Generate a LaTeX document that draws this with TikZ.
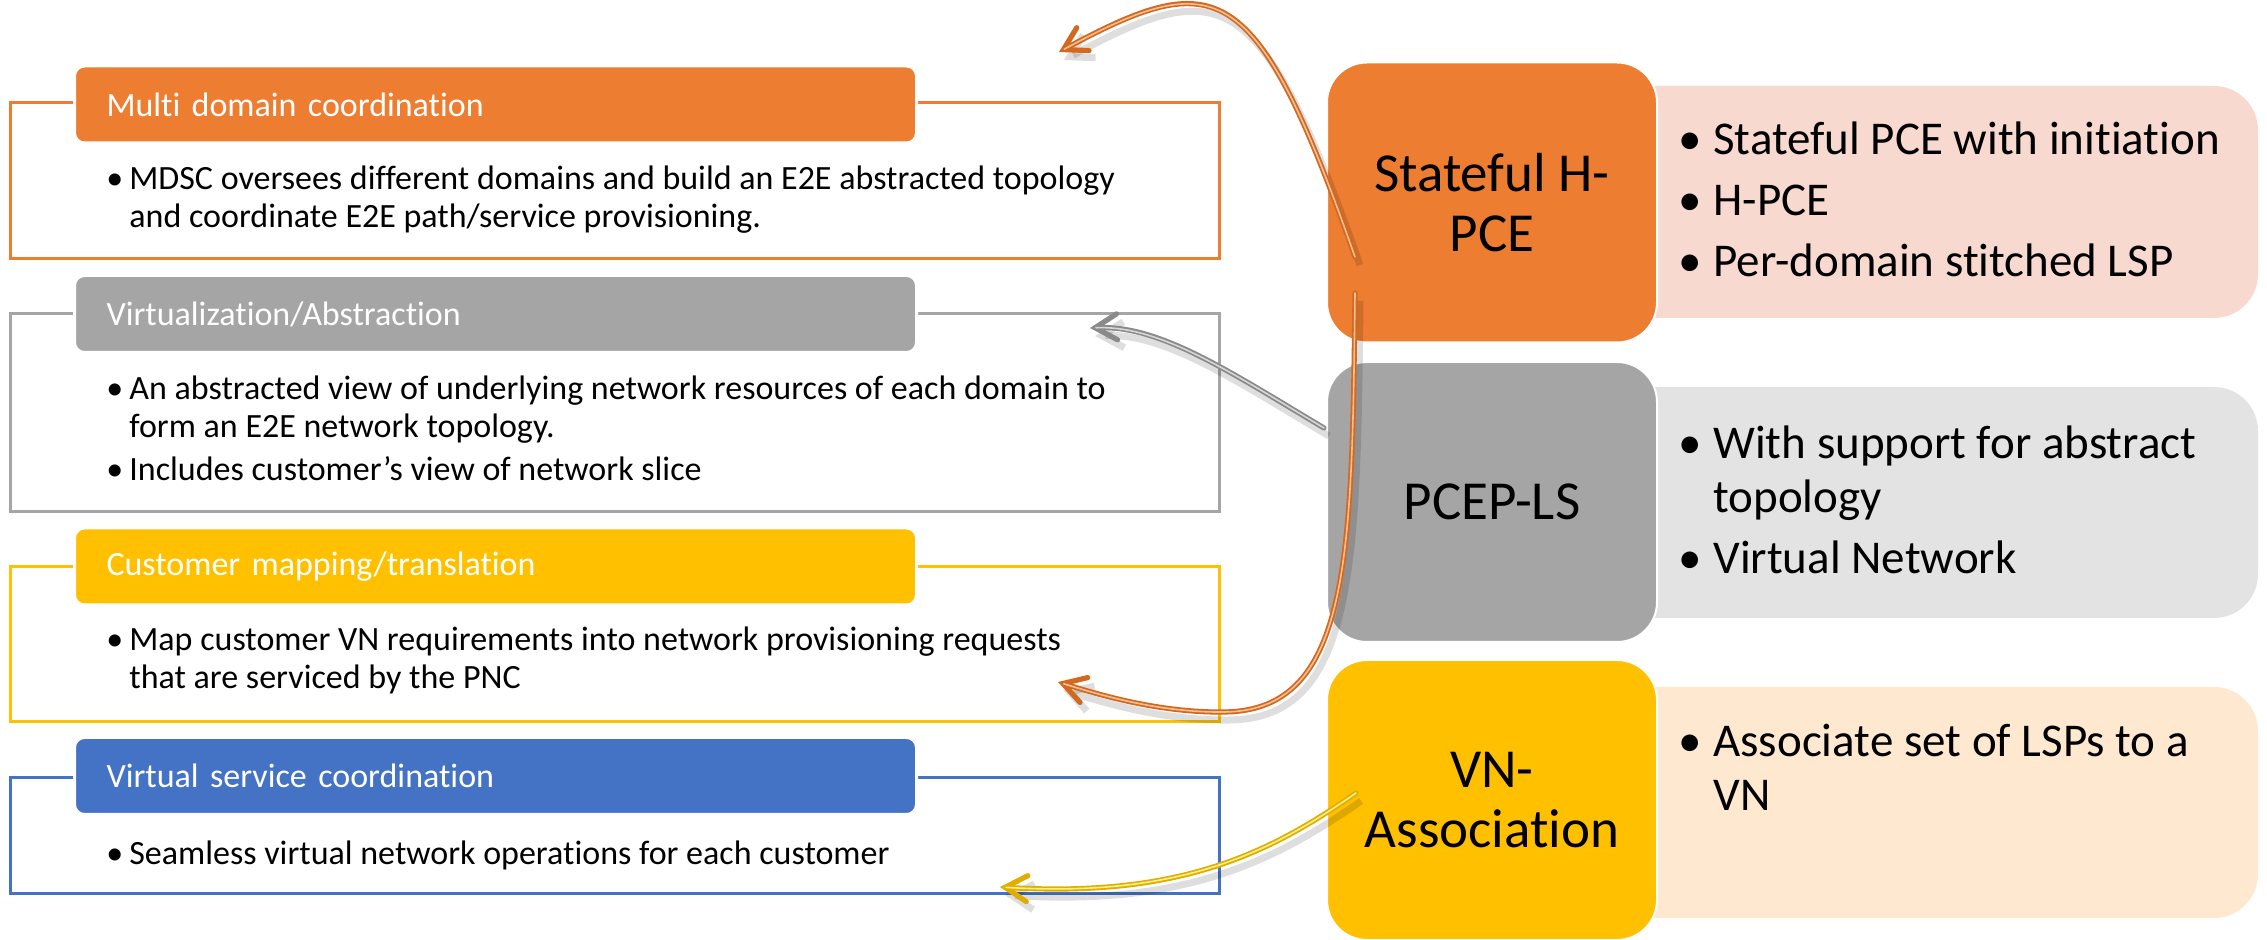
\documentclass[tikz,border=0pt]{standalone}
\usepackage{fontspec}
\setmainfont{Carlito}[Ligatures=NoCommon]
\usetikzlibrary{arrows.meta,calc}
\definecolor{cOr}{HTML}{ED7D31}
\definecolor{cGr}{HTML}{A5A5A5}
\definecolor{cYe}{HTML}{FFC000}
\definecolor{cBl}{HTML}{4472C4}
\definecolor{lOr}{HTML}{F8D9CF}
\definecolor{lGr}{HTML}{E3E3E3}
\definecolor{lYe}{HTML}{FEE8CF}
\definecolor{dOr}{HTML}{D2691E}
\definecolor{hOr}{HTML}{F9BE94}
\definecolor{dGr}{HTML}{8A8A8A}
\definecolor{hGr}{HTML}{D6D6D6}
\definecolor{dYe}{HTML}{E0AE00}
\definecolor{hYe}{HTML}{FFEE8A}
\newcommand{\lbul}{\makebox[10.5pt][l]{\kern-1pt•}}
\newcommand{\lind}{\hspace*{10.5pt}}
\newcommand{\rbul}{\makebox[13.5pt][l]{\kern-4pt•}}
\newcommand{\rind}{\hspace*{13.5pt}}
\begin{document}
\begin{tikzpicture}[x=0.5pt,y=-0.5pt,
 frame/.style={line width=1.5pt},
 hdr/.style={anchor=west, rounded corners=5pt, draw=white, line width=1.5pt, minimum height=38.5pt, text width=389pt, inner xsep=16pt, align=left, text=white, font=\fontsize{17pt}{20pt}\selectfont},
 body/.style={anchor=base west, inner sep=0pt, font=\fontsize{17pt}{18.75pt}\selectfont},
 big/.style={rounded corners=20pt, draw=white, line width=1pt, minimum width=165pt, minimum height=140pt, align=center, font=\fontsize{27.5pt}{30pt}\selectfont, inner sep=0pt},
 panel/.style={rounded corners=22pt},
 rtext/.style={anchor=base west, inner sep=0pt, font=\fontsize{23.5pt}{27pt}\selectfont},
 tube/.style={line width=2.6pt, line cap=round, -{Straight Barb[length=11pt,width=13pt,line cap=round]}},
 hl/.style={line width=0.8pt, line cap=round, shorten >=3pt},
 shad/.style={line width=3.5pt, black, opacity=0.13, -{Straight Barb[length=11pt,width=13pt]}}
]
\useasboundingbox (0,0) rectangle (2267,940);
\fill[white] (0,0) rectangle (2267,940);

% right light panels
\fill[panel, lOr] (1600,86) rectangle (2258,318);
\fill[panel, lGr] (1600,387) rectangle (2258,618);
\fill[panel, lYe] (1600,687) rectangle (2258,918);

% big boxes
\node[big, fill=cOr] (sh) at (1492,202.5) {Stateful H-\\PCE};
\node[big, fill=cGr] (pls) at (1492,502) {PCEP-LS};
\node[big, fill=cYe] (vna) at (1492,800) {VN-\\Association};

% right texts
\node[rtext] (t1) at (1686,155) {\parbox[t]{285pt}{\rbul Stateful PCE with initiation\\[3.5pt]\rbul H-PCE\\[3.5pt]\rbul Per-domain stitched LSP}};
\node[rtext] (t2) at (1686,459) {\parbox[t]{285pt}{\rbul With support for abstract\\\rind topology\\[3.5pt]\rbul Virtual Network}};
\node[rtext] (t3) at (1686,757) {\parbox[t]{285pt}{\rbul Associate set of LSPs to a\\\rind VN}};

% left frames
\draw[frame, cOr] (10,103) rectangle (1219,259);
\draw[frame, cGr] (10,314) rectangle (1219,512);
\draw[frame, cYe] (10,567) rectangle (1219,722);
\draw[frame, cBl] (10,778) rectangle (1219,894);

\node[hdr, fill=cOr] (h1) at (73,104.5) {Multi domain coordination};
\node[hdr, fill=cGr] (h2) at (73,314) {Virtualization/Abstraction};
\node[hdr, fill=cYe] (h3) at (73,566.5) {Customer mapping/translation};
\node[hdr, fill=cBl] (h4) at (73,776) {Virtual service coordination};

\node[body] (b1) at (108,190) {\parbox[t]{560pt}{\lbul MDSC oversees different domains and build an E2E abstracted topology\\\lind and coordinate E2E path/service provisioning.}};
\node[body] (b2) at (108,400) {\parbox[t]{560pt}{\lbul An abstracted view of underlying network resources of each domain to\\\lind form an E2E network topology.\\[2.75pt]\lbul Includes customer’s view of network slice}};
\node[body] (b3) at (108,651) {\parbox[t]{560pt}{\lbul Map customer VN requirements into network provisioning requests\\\lind that are serviced by the PNC}};
\node[body] (b4) at (108,864) {\parbox[t]{560pt}{\lbul Seamless virtual network operations for each customer}};

% connector end points
\coordinate (s1) at (1355,257);
\coordinate (e1) at (1059,52);
\coordinate (s2) at (1355,293);
\coordinate (e2) at (1058,682);
\coordinate (s3) at (1324,428);
\coordinate (e3) at (1090,328);
\coordinate (s4) at (1356,793);
\coordinate (e4) at (1000,887);

% shadows
\draw[shad] (1360,265) .. controls (1261,-17) and (1222,-25) .. (1064,60);
\draw[shad] (1360,301) .. controls (1357,568) and (1355,718) .. (1230,720) .. controls (1165,721) and (1105,703) .. (1063,690);
\draw[shad] (1329,436) .. controls (1235,380) and (1165,333) .. (1095,336);
\draw[shad] (1361,801) .. controls (1275,861) and (1185,906) .. (1005,895);

% arrows
\draw[tube, dOr] (s1) .. controls (1256,-25) and (1217,-33) .. (e1);
\draw[hl, hOr] (s1) .. controls (1256,-25) and (1217,-33) .. (e1);
\draw[tube, dGr] (s3) .. controls (1230,372) and (1160,325) .. (e3);
\draw[hl, hGr] (s3) .. controls (1230,372) and (1160,325) .. (e3);
\draw[tube, dOr] (s2) .. controls (1352,560) and (1350,710) .. (1225,712) .. controls (1160,713) and (1100,695) .. (e2);
\draw[hl, hOr] (s2) .. controls (1352,560) and (1350,710) .. (1225,712) .. controls (1160,713) and (1100,695) .. (e2);
\draw[tube, dYe] (s4) .. controls (1270,853) and (1180,898) .. (e4);
\draw[hl, hYe] (s4) .. controls (1270,853) and (1180,898) .. (e4);
\end{tikzpicture}
\end{document}
